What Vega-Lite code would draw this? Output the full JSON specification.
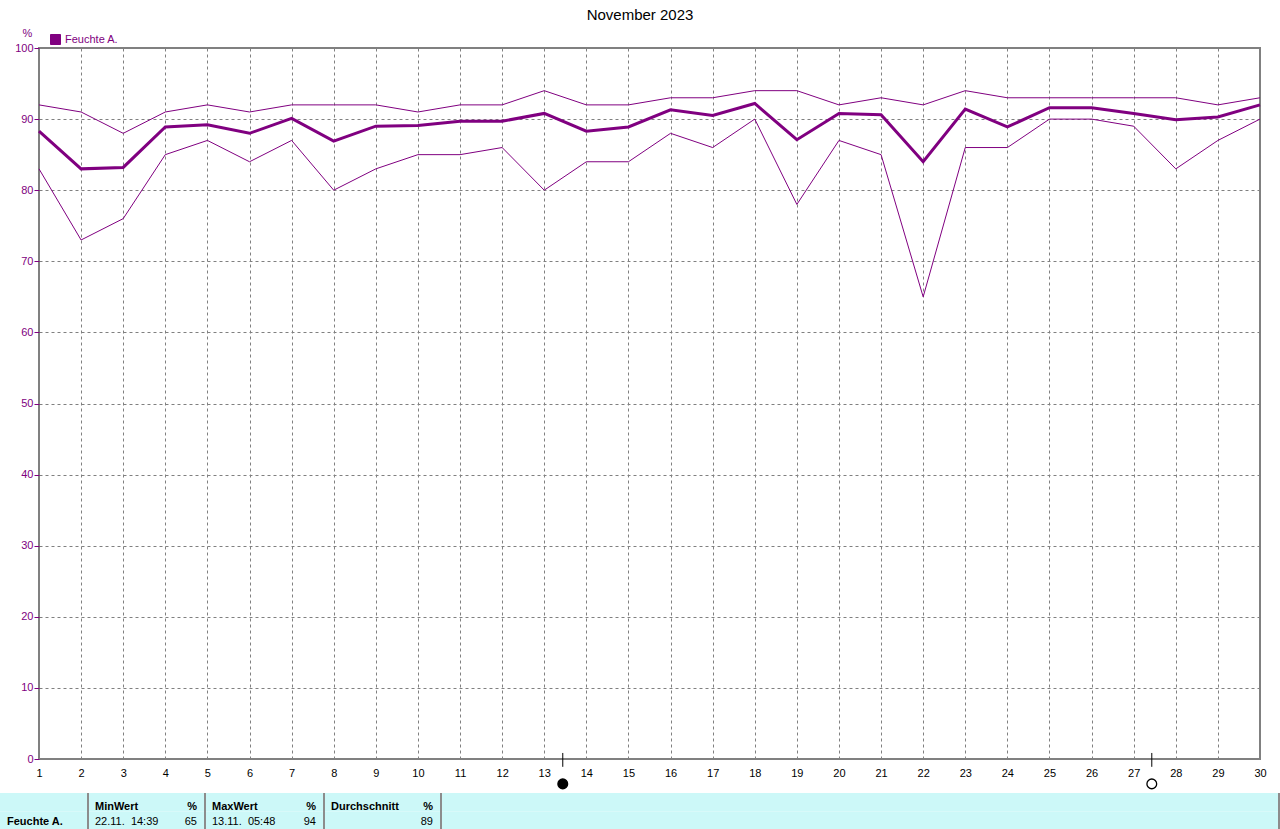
{
  "$schema": "https://vega.github.io/schema/vega-lite/v6.json",
  "padding": {"left": 0, "top": 8, "right": 0, "bottom": 0},
  "background": "white",
  "title": {"text": "November 2023", "fontSize": 15, "fontWeight": "normal", "font": "Liberation Sans", "color": "black", "anchor": "middle", "offset": 3},
  "config": {"view": {"stroke": null}, "font": "Liberation Sans"},
  "bounds": "flush",
  "spacing": 34,
  "vconcat": [
    {
      "width": 1221,
      "height": 711,
      "view": {"stroke": "#808080", "strokeWidth": 2},
      "data": {"values": [
        {"day": 1, "min": 83, "max": 92, "avg": 88.3},
        {"day": 2, "min": 73, "max": 91, "avg": 83.0},
        {"day": 3, "min": 76, "max": 88, "avg": 83.2},
        {"day": 4, "min": 85, "max": 91, "avg": 88.9},
        {"day": 5, "min": 87, "max": 92, "avg": 89.2},
        {"day": 6, "min": 84, "max": 91, "avg": 88.0},
        {"day": 7, "min": 87, "max": 92, "avg": 90.1},
        {"day": 8, "min": 80, "max": 92, "avg": 86.9},
        {"day": 9, "min": 83, "max": 92, "avg": 89.0},
        {"day": 10, "min": 85, "max": 91, "avg": 89.1},
        {"day": 11, "min": 85, "max": 92, "avg": 89.7},
        {"day": 12, "min": 86, "max": 92, "avg": 89.7},
        {"day": 13, "min": 80, "max": 94, "avg": 90.8},
        {"day": 14, "min": 84, "max": 92, "avg": 88.3},
        {"day": 15, "min": 84, "max": 92, "avg": 88.9},
        {"day": 16, "min": 88, "max": 93, "avg": 91.3},
        {"day": 17, "min": 86, "max": 93, "avg": 90.5},
        {"day": 18, "min": 90, "max": 94, "avg": 92.2},
        {"day": 19, "min": 78, "max": 94, "avg": 87.1},
        {"day": 20, "min": 87, "max": 92, "avg": 90.8},
        {"day": 21, "min": 85, "max": 93, "avg": 90.6},
        {"day": 22, "min": 65, "max": 92, "avg": 84.0},
        {"day": 23, "min": 86, "max": 94, "avg": 91.4},
        {"day": 24, "min": 86, "max": 93, "avg": 88.9},
        {"day": 25, "min": 90, "max": 93, "avg": 91.6},
        {"day": 26, "min": 90, "max": 93, "avg": 91.6},
        {"day": 27, "min": 89, "max": 93, "avg": 90.8},
        {"day": 28, "min": 83, "max": 93, "avg": 89.9},
        {"day": 29, "min": 87, "max": 92, "avg": 90.3},
        {"day": 30, "min": 90, "max": 93, "avg": 92.0}
      ]},
      "encoding": {
        "x": {
          "field": "day", "type": "quantitative",
          "scale": {"domain": [1, 30], "nice": false, "zero": false},
          "axis": {
            "values": [1,2,3,4,5,6,7,8,9,10,11,12,13,14,15,16,17,18,19,20,21,22,23,24,25,26,27,28,29,30],
            "title": null, "domain": false, "ticks": false, "labelPadding": 8,
            "labelColor": "black", "labelFontSize": 11, "labelFont": "Liberation Sans",
            "grid": true, "gridColor": "#808080", "gridDash": [3, 3], "gridWidth": 1,
            "labelFlush": false, "labelOverlap": false
          }
        }
      },
      "layer": [
        {
          "encoding": {
            "y": {
              "field": "value", "type": "quantitative",
              "scale": {"domain": [0, 100], "nice": false, "zero": false},
              "axis": {
                "values": [0,10,20,30,40,50,60,70,80,90,100],
                "title": "%", "titleAngle": 0, "titleX": -12, "titleY": -12, "titleAlign": "center", "titleBaseline": "alphabetic",
                "titleColor": "#800080", "titleFontSize": 11, "titleFontWeight": "normal",
                "domain": false, "tickColor": "#800080", "tickSize": 5, "labelPadding": 1,
                "labelColor": "#800080", "labelFontSize": 11,
                "grid": true, "gridColor": "#808080", "gridDash": [3, 3], "gridWidth": 1
              }
            }
          },
          "layer": [
            {
              "transform": [{"fold": ["max", "min"], "as": ["series", "value"]}],
              "mark": {"type": "line", "color": "#800080", "strokeWidth": 1},
              "encoding": {"detail": {"field": "series", "type": "nominal"}}
            },
            {
              "transform": [{"fold": ["avg"], "as": ["series", "value"]}],
              "mark": {"type": "line", "strokeWidth": 3},
              "encoding": {
                "color": {
                  "datum": "Feuchte A.", "type": "nominal",
                  "scale": {"range": ["#800080"]},
                  "legend": {
                    "orient": "none", "legendX": 11, "legendY": -14, "title": null, "padding": 0,
                    "symbolType": "square", "symbolSize": 100, "symbolStrokeWidth": 1,
                    "symbolFillColor": "#800080", "symbolStrokeColor": "black",
                    "labelColor": "#800080", "labelFontSize": 11, "labelOffset": 4,
                    "encode": {"symbols": {"update": {"fill": {"value": "#800080"}, "stroke": {"value": "black"}, "strokeWidth": {"value": 1}}}}
                  }
                }
              }
            }
          ]
        },
        {
          "data": {"values": [{"day": 13.44, "phase": "Neumond"}, {"day": 27.43, "phase": "Vollmond"}]},
          "mark": {"type": "rule", "color": "black", "strokeWidth": 1},
          "encoding": {
            "y": {"datum": 0.85, "type": "quantitative"},
            "y2": {"datum": -1.1}
          }
        },
        {
          "data": {"values": [{"day": 13.44, "phase": "Neumond"}, {"day": 27.43, "phase": "Vollmond"}]},
          "mark": {"type": "point", "shape": "circle", "size": 95, "stroke": "black", "strokeWidth": 1.3, "opacity": 1},
          "encoding": {
            "y": {"datum": -3.5, "type": "quantitative"},
            "fill": {"field": "phase", "type": "nominal", "scale": {"domain": ["Neumond", "Vollmond"], "range": ["black", "white"]}, "legend": null}
          }
        }
      ]
    },
    {
      "width": 1221,
      "height": 37,
      "data": {"values": [
        {"kind": "label", "col": 0, "row": "Wert", "text": "Feuchte A."},
        {"kind": "head", "col": 1, "row": "Kopf", "text": "MinWert"},
        {"kind": "head", "col": 2, "row": "Kopf", "text": "MaxWert"},
        {"kind": "head", "col": 3, "row": "Kopf", "text": "Durchschnitt"},
        {"kind": "unit", "edge": 2, "row": "Kopf", "text": "%"},
        {"kind": "unit", "edge": 3, "row": "Kopf", "text": "%"},
        {"kind": "unit", "edge": 4, "row": "Kopf", "text": "%"},
        {"kind": "time", "col": 1, "row": "Wert", "text": "22.11.\u00a0\u00a014:39"},
        {"kind": "time", "col": 2, "row": "Wert", "text": "13.11.\u00a0\u00a005:48"},
        {"kind": "value", "edge": 2, "row": "Wert", "text": "65"},
        {"kind": "value", "edge": 3, "row": "Wert", "text": "94"},
        {"kind": "value", "edge": 4, "row": "Wert", "text": "89"}
      ]},
      "layer": [
        {
          "data": {"values": [{"row": "Kopf"}, {"row": "Wert"}]},
          "mark": {"type": "rect", "color": "#ccf8f8"},
          "encoding": {
            "x": {"datum": 0, "type": "quantitative", "scale": {"domain": [0, 1, 2, 3, 4, 5], "range": [-39, 49, 166, 285, 402, 1240], "nice": false, "zero": false}, "axis": null},
            "x2": {"datum": 5},
            "y": {"field": "row", "type": "nominal", "scale": {"domain": ["Kopf", "Wert"], "paddingInner": 0, "paddingOuter": 0}, "axis": null}
          }
        },
        {
          "data": {"values": [{"edge": 1}, {"edge": 2}, {"edge": 3}, {"edge": 4}, {"edge": 5}]},
          "mark": {"type": "rule", "color": "#8c8c8c", "strokeWidth": 2},
          "encoding": {"x": {"field": "edge", "type": "quantitative"}}
        },
        {
          "transform": [{"filter": "datum.kind === 'head'"}],
          "mark": {"type": "text", "align": "left", "baseline": "middle", "dx": 7, "dy": 4.5, "fontWeight": "bold", "fontSize": 11, "color": "black"},
          "encoding": {"x": {"field": "col", "type": "quantitative"}, "y": {"field": "row", "type": "nominal"}, "text": {"field": "text"}}
        },
        {
          "transform": [{"filter": "datum.kind === 'unit'"}],
          "mark": {"type": "text", "align": "right", "baseline": "middle", "dx": -8, "dy": 4.5, "fontWeight": "bold", "fontSize": 11, "color": "black"},
          "encoding": {"x": {"field": "edge", "type": "quantitative"}, "y": {"field": "row", "type": "nominal"}, "text": {"field": "text"}}
        },
        {
          "transform": [{"filter": "datum.kind === 'label'"}],
          "mark": {"type": "text", "align": "left", "baseline": "middle", "dx": 7, "dy": 1.5, "fontWeight": "bold", "fontSize": 11, "color": "black"},
          "encoding": {"x": {"field": "col", "type": "quantitative"}, "y": {"field": "row", "type": "nominal"}, "text": {"field": "text"}}
        },
        {
          "transform": [{"filter": "datum.kind === 'time'"}],
          "mark": {"type": "text", "align": "left", "baseline": "middle", "dx": 7, "dy": 1.5, "fontSize": 11, "color": "black"},
          "encoding": {"x": {"field": "col", "type": "quantitative"}, "y": {"field": "row", "type": "nominal"}, "text": {"field": "text"}}
        },
        {
          "transform": [{"filter": "datum.kind === 'value'"}],
          "mark": {"type": "text", "align": "right", "baseline": "middle", "dx": -8, "dy": 1.5, "fontSize": 11, "color": "black"},
          "encoding": {"x": {"field": "edge", "type": "quantitative"}, "y": {"field": "row", "type": "nominal"}, "text": {"field": "text"}}
        }
      ]
    }
  ]
}
